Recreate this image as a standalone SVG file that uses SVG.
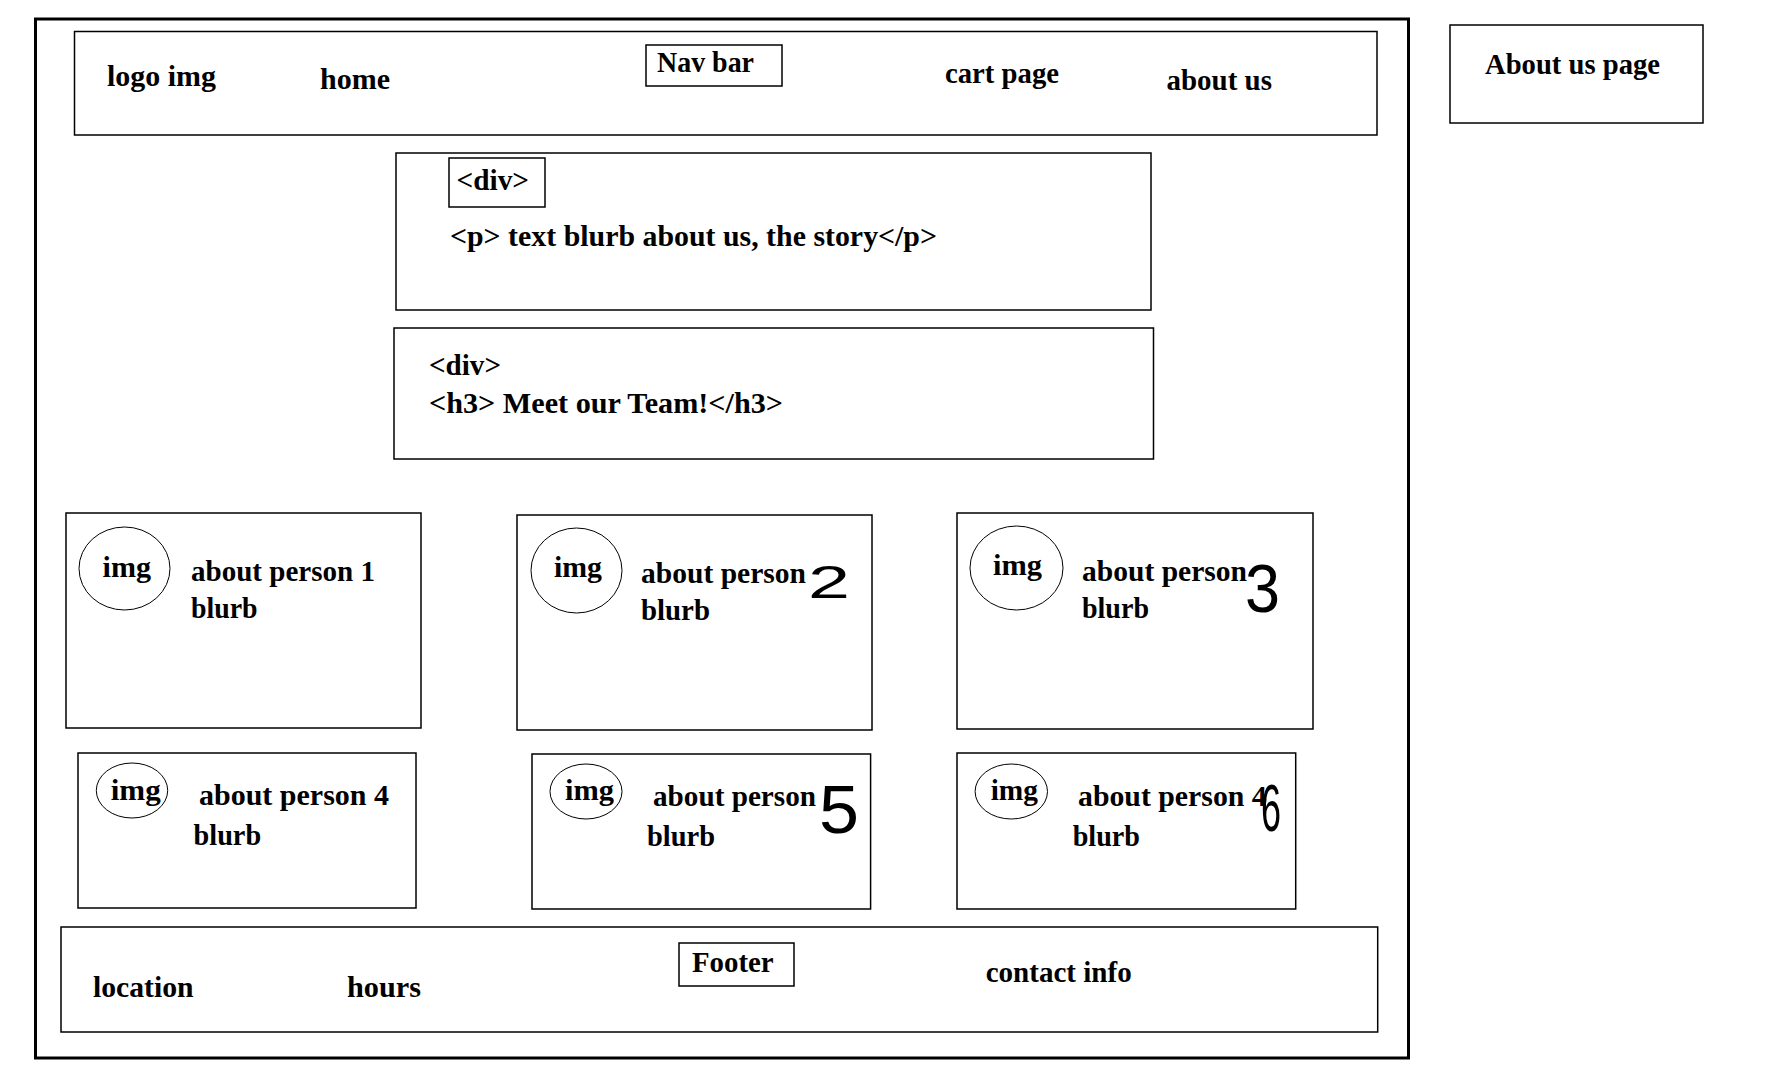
<svg xmlns="http://www.w3.org/2000/svg" width="1783" height="1082" viewBox="0 0 1783 1082">
<style>
  .box { fill: none; stroke: #000; stroke-width: 1.5; }
  .frame { fill: none; stroke: #000; stroke-width: 3; }
  .circ { fill: none; stroke: #000; stroke-width: 1; }
  text { font-family: "Liberation Serif", "Times New Roman", serif; font-weight: bold; font-size: 30px; fill: #000; }
  text.hand { font-family: "Liberation Sans", "DejaVu Sans", sans-serif; font-weight: normal; fill: #000; }
</style>
<rect x="0" y="0" width="1783" height="1082" fill="#fff"/>

<g id="page-frame">
  <rect class="frame" x="35.5" y="19" width="1373" height="1039"/>
</g>

<g id="about-us-page-label">
  <rect class="box" x="1450" y="25" width="253" height="98"/>
  <text x="1485" y="74" textLength="175" lengthAdjust="spacingAndGlyphs">About us page</text>
</g>

<g id="navbar">
  <rect class="box" x="74.5" y="31.5" width="1302.5" height="103.5"/>
  <rect class="box" x="646" y="45" width="136" height="41"/>
  <text x="657" y="72" textLength="97" lengthAdjust="spacingAndGlyphs">Nav bar</text>
  <text x="107" y="86" textLength="109" lengthAdjust="spacingAndGlyphs">logo img</text>
  <text x="320" y="89" textLength="70" lengthAdjust="spacingAndGlyphs">home</text>
  <text x="945" y="83" textLength="114" lengthAdjust="spacingAndGlyphs">cart page</text>
  <text x="1166.5" y="90" textLength="105.5" lengthAdjust="spacingAndGlyphs">about us</text>
</g>

<g id="story-div">
  <rect class="box" x="396" y="153" width="755" height="157"/>
  <rect class="box" x="449" y="158" width="96" height="49"/>
  <text x="456.5" y="190" textLength="72.5" lengthAdjust="spacingAndGlyphs">&lt;div&gt;</text>
  <text x="450" y="246" textLength="487" lengthAdjust="spacingAndGlyphs">&lt;p&gt; text blurb about us, the story&lt;/p&gt;</text>
</g>

<g id="team-div">
  <rect class="box" x="394" y="328" width="759.5" height="131"/>
  <text x="429" y="375" textLength="72" lengthAdjust="spacingAndGlyphs">&lt;div&gt;</text>
  <text x="429" y="413" textLength="354" lengthAdjust="spacingAndGlyphs">&lt;h3&gt; Meet our Team!&lt;/h3&gt;</text>
</g>

<g id="person-1">
  <rect class="box" x="66" y="513" width="355" height="215"/>
  <ellipse class="circ" cx="124.5" cy="568.5" rx="45.5" ry="41.5"/>
  <text x="102.6" y="577" textLength="48.4" lengthAdjust="spacingAndGlyphs">img</text>
  <text x="191" y="581" textLength="184" lengthAdjust="spacingAndGlyphs">about person 1</text>
  <text x="191" y="618" textLength="66.6" lengthAdjust="spacingAndGlyphs">blurb</text>
</g>

<g id="person-2">
  <rect class="box" x="517" y="515" width="355" height="215"/>
  <ellipse class="circ" cx="576.5" cy="570.5" rx="45.5" ry="42.5"/>
  <text x="554" y="577" textLength="48" lengthAdjust="spacingAndGlyphs">img</text>
  <text x="641" y="583" textLength="165" lengthAdjust="spacingAndGlyphs">about person</text>
  <text x="641" y="620" textLength="69" lengthAdjust="spacingAndGlyphs">blurb</text>
  <text class="hand" x="808" y="598" style="font-size:46px" textLength="42" lengthAdjust="spacingAndGlyphs">2</text>
</g>

<g id="person-3">
  <rect class="box" x="957" y="513" width="356" height="216"/>
  <ellipse class="circ" cx="1016.5" cy="568" rx="46.5" ry="42"/>
  <text x="993" y="575" textLength="49" lengthAdjust="spacingAndGlyphs">img</text>
  <text x="1082" y="581" textLength="165" lengthAdjust="spacingAndGlyphs">about person</text>
  <text x="1082" y="618" textLength="67" lengthAdjust="spacingAndGlyphs">blurb</text>
  <text class="hand" x="1245" y="612" style="font-size:68px" textLength="35" lengthAdjust="spacingAndGlyphs">3</text>
</g>

<g id="person-4">
  <rect class="box" x="78" y="753" width="338" height="155"/>
  <ellipse class="circ" cx="132" cy="790.5" rx="35.7" ry="27.5"/>
  <text x="110.7" y="800" textLength="50" lengthAdjust="spacingAndGlyphs">img</text>
  <text x="199" y="805" textLength="190" lengthAdjust="spacingAndGlyphs">about person 4</text>
  <text x="193.6" y="845" textLength="67.5" lengthAdjust="spacingAndGlyphs">blurb</text>
</g>

<g id="person-5">
  <rect class="box" x="532" y="754" width="338.6" height="155"/>
  <ellipse class="circ" cx="586" cy="791.5" rx="36" ry="27.5"/>
  <text x="565" y="800" textLength="49" lengthAdjust="spacingAndGlyphs">img</text>
  <text x="653" y="806" textLength="163" lengthAdjust="spacingAndGlyphs">about person</text>
  <text class="hand" x="819" y="833" style="font-size:68px" textLength="40" lengthAdjust="spacingAndGlyphs">5</text>
  <text x="647" y="846" textLength="68" lengthAdjust="spacingAndGlyphs">blurb</text>
</g>

<g id="person-6">
  <rect class="box" x="957" y="753" width="338.7" height="156"/>
  <ellipse class="circ" cx="1011.3" cy="791.5" rx="36.2" ry="27.5"/>
  <text x="990.7" y="800" textLength="47.3" lengthAdjust="spacingAndGlyphs">img</text>
  <text x="1078" y="806" textLength="188.7" lengthAdjust="spacingAndGlyphs">about person 4</text>
  <text x="1072.7" y="846" textLength="67.3" lengthAdjust="spacingAndGlyphs">blurb</text>
  <text class="hand" x="1261" y="831" style="font-size:66px" textLength="20" lengthAdjust="spacingAndGlyphs">6</text>
</g>

<g id="footer">
  <rect class="box" x="61" y="927" width="1316.7" height="105"/>
  <rect class="box" x="679" y="943" width="115" height="43"/>
  <text x="692" y="972" textLength="81.6" lengthAdjust="spacingAndGlyphs">Footer</text>
  <text x="93" y="997" textLength="100.6" lengthAdjust="spacingAndGlyphs">location</text>
  <text x="347" y="997" textLength="74" lengthAdjust="spacingAndGlyphs">hours</text>
  <text x="985.7" y="982" textLength="146" lengthAdjust="spacingAndGlyphs">contact info</text>
</g>

<g id="connectors"></g>
</svg>
